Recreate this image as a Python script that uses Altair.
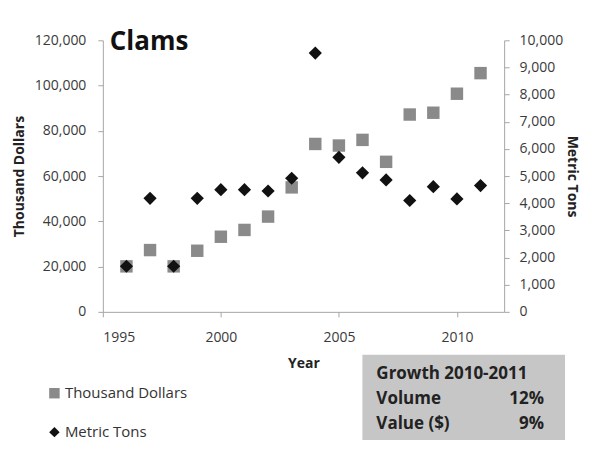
import altair as alt
import pandas as pd

years = list(range(1996, 2012))
thousand_dollars = [20100, 27300, 20100, 27000, 33200, 36200, 42100, 55000, 74200, 73500, 76000, 66300, 87200, 88000, 96400, 105500]
metric_tons = [1680, 4180, 1680, 4180, 4500, 4500, 4450, 4920, 9530, 5690, 5120, 4860, 4100, 4610, 4160, 4650]
series_names = ["Thousand Dollars", "Metric Tons"]
series_colors = ["#8a8a8a", "#111111"]
series_shapes = ["square", "diamond"]
growth_labels = ["Growth 2010-2011", "Volume", "Value ($)"]
growth_values = ["", "12%", "9%"]
chart_title = "Clams"

FONT = "Open Sans"

df_val = pd.DataFrame({"year": years, "value": thousand_dollars, "series": series_names[0]})
df_vol = pd.DataFrame({"year": years, "value": metric_tons, "series": series_names[1]})

x_enc = alt.X("year:Q", scale=alt.Scale(domain=[1995, 2012], nice=False),
              axis=alt.Axis(values=[1995, 2000, 2005, 2010], format="d", title="Year",
                            labelPadding=14, titlePadding=12))
legend = alt.Legend(title=None, orient="none", legendX=-56, legendY=346, direction="vertical",
                    rowPadding=23, labelFontSize=15, labelFont=FONT, labelColor="#333333",
                    symbolSize=110, labelOffset=3)
color_enc = alt.Color("series:N", scale=alt.Scale(domain=series_names, range=series_colors), legend=legend)
shape_enc = alt.Shape("series:N", scale=alt.Scale(domain=series_names, range=series_shapes), legend=legend)

left = alt.Chart(df_val).mark_point(filled=True, size=155, opacity=1).encode(
    x=x_enc,
    y=alt.Y("value:Q", scale=alt.Scale(domain=[0, 120000], nice=False),
            axis=alt.Axis(values=[0, 20000, 40000, 60000, 80000, 100000, 120000], format=",d",
                          title="Thousand Dollars", orient="left", titlePadding=8)),
    color=color_enc, shape=shape_enc,
)
right = alt.Chart(df_vol).mark_point(filled=True, size=175, opacity=1).encode(
    x=x_enc,
    y=alt.Y("value:Q", scale=alt.Scale(domain=[0, 10000], nice=False),
            axis=alt.Axis(values=list(range(0, 10001, 1000)), format=",d",
                          title="Metric Tons", orient="right", titlePadding=2, labelPadding=10)),
    color=color_enc, shape=shape_enc,
)

one = pd.DataFrame({"k": [0]})
title_mark = alt.Chart(one).mark_text(text=chart_title, font=FONT, fontSize=26, fontWeight="bold",
                                      align="left", baseline="alphabetic", color="#111111").encode(
    x=alt.value(7), y=alt.value(10))
box = alt.Chart(one).mark_rect(color="#c6c6c6").encode(
    x=alt.value(260), x2=alt.value(463), y=alt.value(315), y2=alt.value(402))
box_labels = alt.Chart(one).mark_text(text="\n".join(growth_labels), lineBreak="\n", lineHeight=25,
                                      font=FONT, fontSize=17, fontWeight="bold", align="left",
                                      baseline="alphabetic", color="#222222").encode(
    x=alt.value(274), y=alt.value(339))
box_values = alt.Chart(one).mark_text(text="\n".join(growth_values), lineBreak="\n", lineHeight=25,
                                      font=FONT, fontSize=17, fontWeight="bold", align="right",
                                      baseline="alphabetic", color="#222222").encode(
    x=alt.value(442), y=alt.value(339))

chart = alt.layer(left, right, title_mark, box, box_labels, box_values).resolve_scale(
    y="independent"
).properties(
    width=402, height=272,
    autosize=alt.AutoSizeParams(type="none"),
    padding={"left": 95, "top": 32, "right": 81, "bottom": 128},
).configure_view(stroke=None).configure_axis(
    grid=False, domainColor="#a6a6a6", tickColor="#a6a6a6", tickSize=5,
    labelFont=FONT, labelFontSize=14, labelColor="#3a3a3a", labelPadding=12,
    titleFont=FONT, titleFontSize=14, titleFontWeight="bold", titleColor="#222222",
).configure_legend(symbolStrokeWidth=0)

chart.save("out.html", embed_options={"renderer": "svg", "actions": False})
